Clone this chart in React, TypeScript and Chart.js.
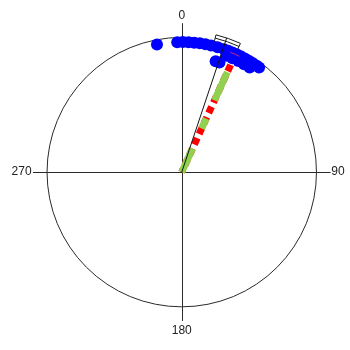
import { useEffect, useRef } from "react";
import { Chart, registerables } from "chart.js";

Chart.register(...registerables);

const DEG = Math.PI / 180;

// Observed directions (degrees, clockwise from north) and their stacking radius
const obsAngles = [-11, -2, 0.5, 3, 5.5, 8, 10.5, 13, 16, 19, 21, 23, 25, 27, 29, 31, 33, 35, 36.5, 21, 24, 27, 30, 33, 17, 19];
const obsRadii = [0.965, 0.965, 0.965, 0.965, 0.965, 0.965, 0.965, 0.965, 0.965, 0.965, 0.965, 0.965, 0.965, 0.965, 0.965, 0.965, 0.965, 0.965, 0.965, 0.925, 0.925, 0.925, 0.925, 0.925, 0.86, 0.86];

// Mean vector and its confidence interval
const meanAngle = 24.5;
const meanLength = 0.875;
const ciCentre = 18.5;
const ciLow = 14;
const ciHigh = 24.5;
const medianAngle = 24.3;

// Compass labels
const axisLabels = ["0", "90", "180", "270"];
const labelAngles = [0, 90, 180, 270];

const toXY = (deg: number, r: number) => ({ x: r * Math.sin(deg * DEG), y: r * Math.cos(deg * DEG) });

const SIZE = 350;
const UNIT = 139.5;
const CX = 182;
const CY = 172;

const compassFrame = {
  id: "compassFrame",
  beforeDatasetsDraw(chart: any) {
    const { ctx } = chart;
    const xs = chart.scales.x;
    const ys = chart.scales.y;
    const cx = xs.getPixelForValue(0);
    const cy = ys.getPixelForValue(0);
    const R = xs.getPixelForValue(1) - cx;
    ctx.save();
    ctx.strokeStyle = "#2a2a2a";
    ctx.lineWidth = 1;
    ctx.beginPath();
    ctx.arc(cx, cy, R, 0, Math.PI * 2);
    ctx.stroke();
    const ext = 1.105;
    ctx.beginPath();
    ctx.moveTo(Math.round(cx) + 0.5, ys.getPixelForValue(ext));
    ctx.lineTo(Math.round(cx) + 0.5, ys.getPixelForValue(-ext));
    ctx.moveTo(xs.getPixelForValue(-ext), Math.round(cy) + 0.5);
    ctx.lineTo(xs.getPixelForValue(ext), Math.round(cy) + 0.5);
    ctx.stroke();
    ctx.restore();
  },
  afterDatasetsDraw(chart: any) {
    const { ctx } = chart;
    const xs = chart.scales.x;
    const ys = chart.scales.y;
    const cx = xs.getPixelForValue(0);
    const cy = ys.getPixelForValue(0);
    const R = xs.getPixelForValue(1) - cx;
    ctx.save();
    // confidence interval bracket
    const a0 = (ciLow - 90) * DEG;
    const a1 = (ciHigh - 90) * DEG;
    ctx.strokeStyle = "#1a1a1a";
    ctx.lineWidth = 1;
    ctx.beginPath();
    ctx.arc(cx, cy, R * 1.05, a0, a1);
    ctx.stroke();
    ctx.beginPath();
    ctx.arc(cx, cy, R * 1.025, a0, a1);
    ctx.stroke();
    for (const a of [a0, a1]) {
      ctx.beginPath();
      ctx.moveTo(cx + Math.cos(a) * R * 1.05, cy + Math.sin(a) * R * 1.05);
      ctx.lineTo(cx + Math.cos(a) * R * 1.0, cy + Math.sin(a) * R * 1.0);
      ctx.stroke();
    }
    // median tick
    ctx.strokeStyle = "#c0307a";
    ctx.beginPath();
    ctx.arc(cx, cy, R * 0.96, (medianAngle - 2.2 - 90) * DEG, (medianAngle + 2.2 - 90) * DEG);
    ctx.stroke();
    // compass labels
    ctx.fillStyle = "#222";
    ctx.font = "12px 'Liberation Sans', Arial, sans-serif";
    ctx.textBaseline = "middle";
    labelAngles.forEach((deg, i) => {
      const text = axisLabels[i];
      if (deg === 0) {
        ctx.textAlign = "center";
        ctx.fillText(text, cx, ys.getPixelForValue(1.16));
      } else if (deg === 180) {
        ctx.textAlign = "center";
        ctx.fillText(text, cx, ys.getPixelForValue(-1.18));
      } else if (deg === 90) {
        ctx.textAlign = "left";
        ctx.fillText(text, xs.getPixelForValue(1.11), cy);
      } else {
        ctx.textAlign = "right";
        ctx.fillText(text, xs.getPixelForValue(-1.115), cy);
      }
    });
    ctx.restore();
  },
};

export default function App() {
  const canvasRef = useRef<HTMLCanvasElement | null>(null);

  useEffect(() => {
    const canvas = canvasRef.current;
    if (!canvas) return;
    const points = obsAngles.map((a, i) => toXY(a, obsRadii[i]));
    const tip = toXY(meanAngle, meanLength);
    const ciEnd = toXY(ciCentre, 1.05);

    const chart = new Chart(canvas, {
      type: "scatter",
      data: {
        datasets: [
          {
            type: "line",
            data: [{ x: 0, y: 0 }, ciEnd],
            borderColor: "#111",
            borderWidth: 1,
            pointRadius: 0,
            order: 0,
            clip: false,
          } as any,
          {
            type: "line",
            data: [tip, { x: 0, y: 0 }],
            borderColor: "#92D050",
            borderWidth: 7,
            borderDash: [31, 20, 11, 22],
            borderDashOffset: 76,
            borderCapStyle: "butt",
            pointRadius: 0,
            order: 1,
            clip: false,
          } as any,
          {
            type: "line",
            data: [tip, { x: 0, y: 0 }],
            borderColor: "#FF0000",
            borderWidth: 7,
            borderDash: [7, 4.5],
            borderCapStyle: "butt",
            pointRadius: 0,
            order: 2,
            clip: false,
          } as any,
          {
            data: points,
            backgroundColor: "#0000FF",
            borderWidth: 0,
            pointRadius: 6,
            pointHoverRadius: 6,
            order: 3,
            clip: false,
          } as any,
        ],
      },
      options: {
        responsive: false,
        animation: false,
        events: [],
        layout: { padding: 0 },
        plugins: { legend: { display: false }, tooltip: { enabled: false } },
        scales: {
          x: { type: "linear", display: false, min: -CX / UNIT, max: (SIZE - CX) / UNIT },
          y: { type: "linear", display: false, min: -(SIZE - CY) / UNIT, max: CY / UNIT },
        },
      },
      plugins: [compassFrame],
    });
    return () => chart.destroy();
  }, []);

  return (
    <div style={{ position: "fixed", left: 0, top: 0, width: SIZE, height: SIZE, background: "#fff" }}>
      <canvas ref={canvasRef} width={SIZE} height={SIZE} style={{ display: "block" }} />
    </div>
  );
}
